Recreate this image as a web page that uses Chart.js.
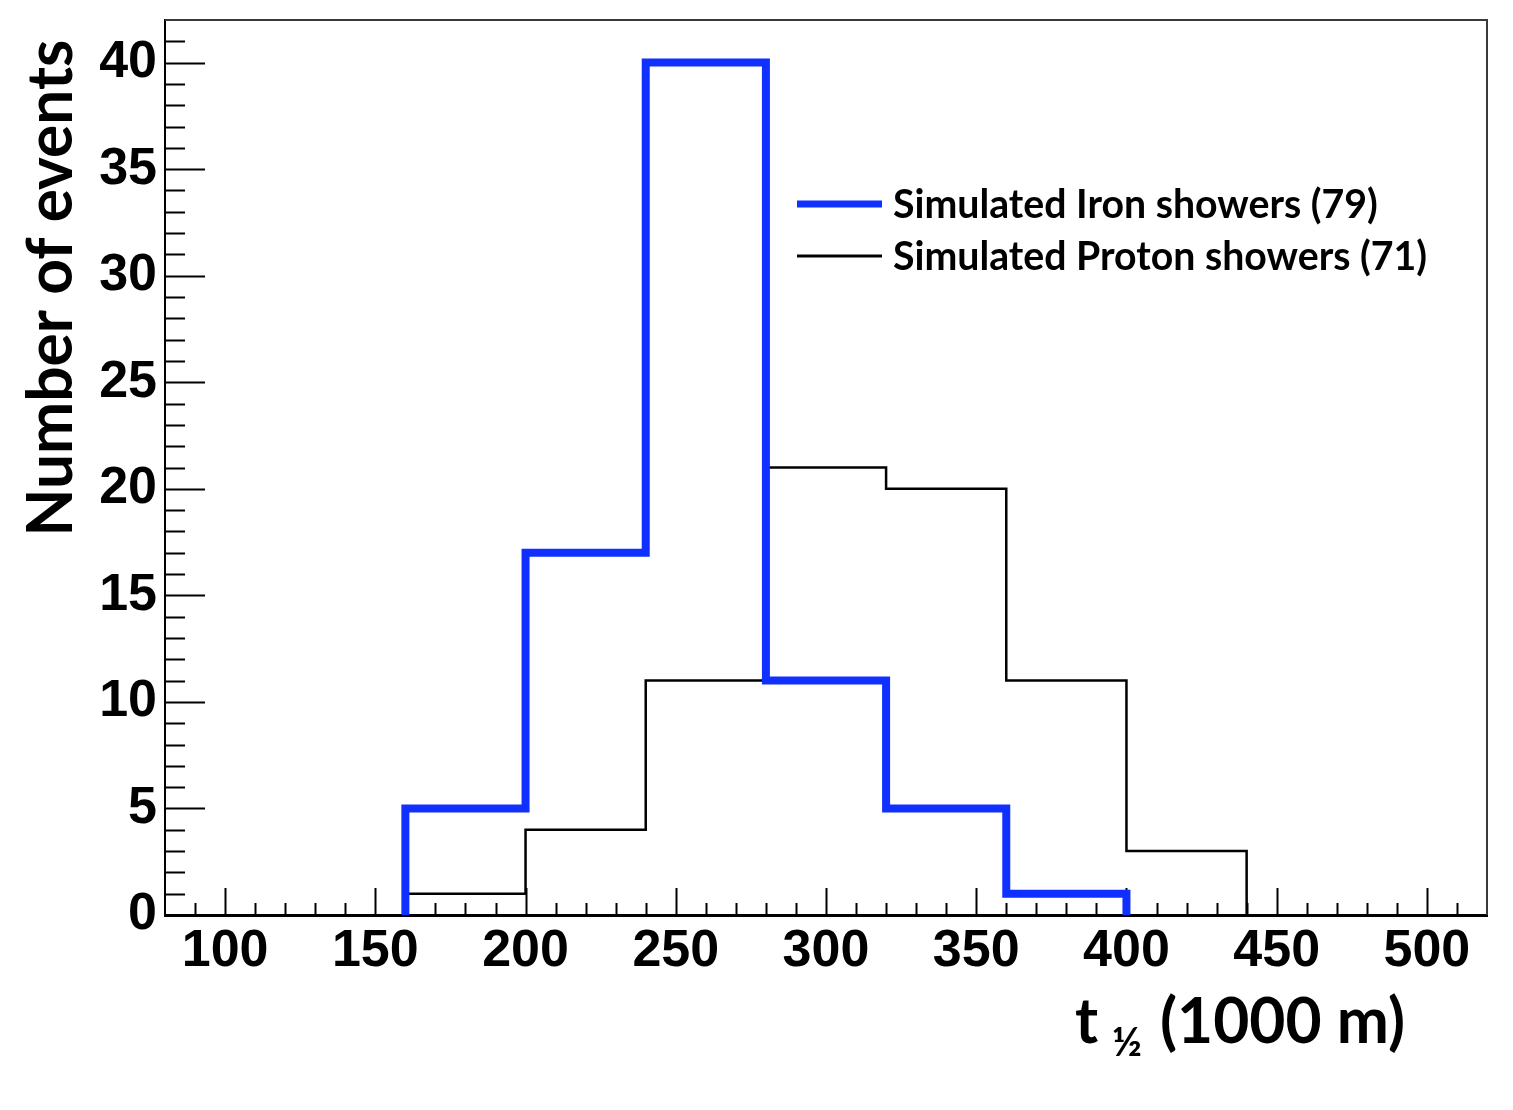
<!DOCTYPE html>
<html><head><meta charset="utf-8">
<script src="https://cdn.jsdelivr.net/npm/chart.js@4.4.0/dist/chart.umd.min.js"></script>
<style>html,body{margin:0;padding:0;background:#fff}#wrap{width:1513px;height:1110px;position:relative}</style>
</head><body><div id="wrap"><canvas id="c" width="1513" height="1110"></canvas></div>
<script>
const binEdges = [160, 200, 240, 280, 320, 360, 400, 440];
const ironCounts = [5, 17, 40, 11, 5, 1];
const protonCounts = [1, 4, 11, 21, 20, 11, 3];
const seriesLabels = ['Simulated Iron showers (79)', 'Simulated Proton showers (71)'];
const xTickLabels = [100, 150, 200, 250, 300, 350, 400, 450, 500];
const yTickLabels = [0, 5, 10, 15, 20, 25, 30, 35, 40];
const xTitleParts = ['t', '½', '(1000 m)'];
const yTitle = 'Number of events';

const BLUE = '#1030ff';
const TFONT = 'Lato, "Open Sans", sans-serif';

function histPoints(counts) {
  const pts = [{x: binEdges[0], y: 0}];
  counts.forEach((c, i) => pts.push({x: binEdges[i], y: c}));
  pts.push({x: binEdges[counts.length], y: 0});
  return pts;
}

function fitSize(ctx, text, weight, family, target) {
  ctx.font = weight + ' 100px ' + family;
  return 100 * target / ctx.measureText(text).width;
}

const decor = {
  id: 'decor',
  beforeDatasetsDraw(chart) {
    const ctx = chart.ctx, a = chart.chartArea, xs = chart.scales.x, ys = chart.scales.y;
    ctx.save();
    ctx.strokeStyle = '#000';
    ctx.lineWidth = 2;
    ctx.beginPath();
    for (let v = ys.min + 1; v < ys.max; v++) {
      const y = Math.round(ys.getPixelForValue(v)) + 0.5;
      const len = v % 5 === 0 ? 40 : 20;
      ctx.moveTo(a.left, y); ctx.lineTo(a.left + len, y);
    }
    for (let v = xs.min + 10; v < xs.max; v += 10) {
      const x = Math.round(xs.getPixelForValue(v)) + 0.5;
      const len = v % 50 === 0 ? 27 : 12;
      ctx.moveTo(x, a.bottom); ctx.lineTo(x, a.bottom - len);
    }
    ctx.stroke();
    ctx.strokeStyle = '#3a3a3a';
    ctx.lineWidth = 2;
    ctx.beginPath();
    ctx.moveTo(a.left, a.top); ctx.lineTo(a.right, a.top); ctx.lineTo(a.right, a.bottom);
    ctx.stroke();
    ctx.restore();
  },
  afterDraw(chart) {
    const ctx = chart.ctx;
    ctx.save();
    ctx.fillStyle = '#000';
    ctx.textBaseline = 'alphabetic';
    const ys = fitSize(ctx, yTitle, 'bold', TFONT, 497);
    ctx.font = 'bold ' + ys + 'px ' + TFONT;
    ctx.translate(72, 288);
    ctx.rotate(-Math.PI / 2);
    ctx.textAlign = 'center';
    ctx.fillText(yTitle, 0, 0);
    ctx.setTransform(1, 0, 0, 1, 0, 0);
    ctx.textAlign = 'left';
    const big = fitSize(ctx, xTitleParts[2], 'bold', TFONT, 245);
    ctx.font = 'bold ' + big + 'px ' + TFONT;
    ctx.fillText(xTitleParts[0], 1075, 1043);
    const small = fitSize(ctx, xTitleParts[1], 'bold', TFONT, 30);
    ctx.font = 'bold ' + small + 'px ' + TFONT;
    ctx.fillText(xTitleParts[1], 1112, 1056);
    ctx.font = 'bold ' + big + 'px ' + TFONT;
    ctx.fillText(xTitleParts[2], 1160, 1043);
    const ls = (fitSize(ctx, seriesLabels[0], 'bold', TFONT, 485) + fitSize(ctx, seriesLabels[1], 'bold', TFONT, 534)) / 2;
    const rows = [{y: 204, color: BLUE, w: 7}, {y: 256, color: '#000', w: 3}];
    rows.forEach((r, i) => {
      ctx.strokeStyle = r.color; ctx.lineWidth = r.w;
      ctx.beginPath(); ctx.moveTo(797, r.y); ctx.lineTo(882, r.y); ctx.stroke();
      ctx.font = 'bold ' + ls + 'px ' + TFONT;
      ctx.textBaseline = 'middle';
      ctx.fillText(chart.data.datasets[i].label, 893, r.y + 1);
    });
    ctx.restore();
  }
};

new Chart(document.getElementById('c'), {
  type: 'line',
  data: {
    datasets: [
      {label: seriesLabels[0], data: histPoints(ironCounts), stepped: true, borderColor: BLUE, borderWidth: 8,
       pointRadius: 0, fill: false, tension: 0, borderJoinStyle: 'miter', borderCapStyle: 'butt'},
      {label: seriesLabels[1], data: histPoints(protonCounts), stepped: true, borderColor: '#000', borderWidth: 2.5,
       pointRadius: 0, fill: false, tension: 0, borderJoinStyle: 'miter', borderCapStyle: 'butt'}
    ]
  },
  options: {
    responsive: false, animation: false,
    layout: {padding: {left: 0, right: 26, top: 20, bottom: 0}},
    plugins: {legend: {display: false}, tooltip: {enabled: false}},
    scales: {
      x: {
        type: 'linear', min: 80, max: 520,
        grid: {display: false, drawTicks: false},
        border: {display: true, color: '#000', width: 3},
        afterBuildTicks: s => { s.ticks = xTickLabels.map(v => ({value: v})); },
        afterFit: s => { s.height = 195; s.paddingLeft = 0; s.paddingRight = 0; },
        ticks: {font: {family: '"Liberation Sans", Arial, sans-serif', weight: 'bold', size: 52}, color: '#000',
                padding: 5, maxRotation: 0, autoSkip: false}
      },
      y: {
        type: 'linear', min: 0, max: 42,
        grid: {display: false, drawTicks: false},
        border: {display: true, color: '#000', width: 2},
        afterBuildTicks: s => { s.ticks = yTickLabels.map(v => ({value: v})); },
        afterFit: s => { s.width = 165; s.paddingTop = 0; s.paddingBottom = 0; },
        ticks: {font: {family: '"Liberation Sans", Arial, sans-serif', weight: 'bold', size: 52}, color: '#000',
                padding: 8, autoSkip: false}
      }
    }
  },
  plugins: [decor]
});
</script></body></html>
